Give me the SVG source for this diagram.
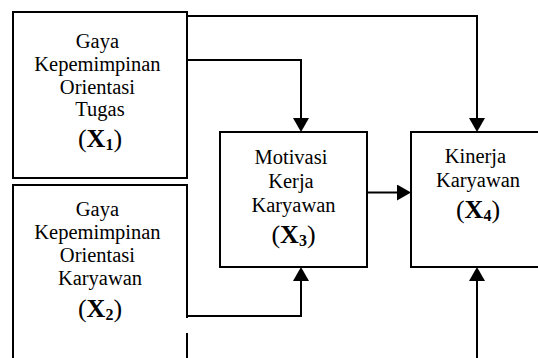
<svg xmlns="http://www.w3.org/2000/svg" width="538" height="358" viewBox="0 0 538 358">
  <style>
    .box { fill: #fff; stroke: #000; stroke-width: 2; }
    .edge { fill: none; stroke: #000; stroke-width: 2; }
    .lbl { font-family: "Liberation Serif", "Times New Roman", serif; font-size: 20.5px; fill: #000; text-anchor: middle; }
    .var { font-size: 26px; }
    .b { font-weight: bold; }
    .sub { font-weight: bold; font-size: 16px; }
  </style>
  <defs>
    <marker id="arrow" viewBox="0 0 14 16" markerUnits="userSpaceOnUse" markerWidth="14" markerHeight="16" refX="0" refY="8" orient="auto">
      <path d="M0,0 L14,8 L0,16 Z" fill="#000"/>
    </marker>
  </defs>

  <rect width="538" height="358" fill="#fff"/>

  <g id="x1">
    <rect class="box" x="13" y="12" width="174" height="166"/>
    <text class="lbl">
      <tspan x="100" y="48">Gaya</tspan>
      <tspan x="100" y="71">Kepemimpinan</tspan>
      <tspan x="100" y="94">Orientasi</tspan>
      <tspan x="100" y="116">Tugas</tspan>
    </text>
    <text class="lbl var" x="100" y="147">(<tspan class="b">X</tspan><tspan class="sub" dy="3">1</tspan><tspan dy="-3">)</tspan></text>
  </g>

  <g id="x2">
    <path class="box" d="M187,318 V185 H13 V372"/>
    <path class="box" d="M187,333 V372"/>
    <text class="lbl">
      <tspan x="100" y="216">Gaya</tspan>
      <tspan x="100" y="239">Kepemimpinan</tspan>
      <tspan x="100" y="262">Orientasi</tspan>
      <tspan x="100" y="285">Karyawan</tspan>
    </text>
    <text class="lbl var" x="100" y="317">(<tspan class="b">X</tspan><tspan class="sub" dy="3">2</tspan><tspan dy="-3">)</tspan></text>
  </g>

  <g id="x3">
    <rect class="box" x="220" y="132" width="147" height="135"/>
    <text class="lbl">
      <tspan x="293.5" y="164">Motivasi</tspan>
      <tspan x="293.5" y="188">Kerja</tspan>
      <tspan x="293.5" y="212">Karyawan</tspan>
    </text>
    <text class="lbl var" x="293.5" y="243">(<tspan class="b">X</tspan><tspan class="sub" dy="3">3</tspan><tspan dy="-3">)</tspan></text>
  </g>

  <g id="x4">
    <rect class="box" x="411" y="132" width="140" height="135"/>
    <text class="lbl">
      <tspan x="478" y="163">Kinerja</tspan>
      <tspan x="478" y="187">Karyawan</tspan>
    </text>
    <text class="lbl var" x="478" y="218">(<tspan class="b">X</tspan><tspan class="sub" dy="3">4</tspan><tspan dy="-3">)</tspan></text>
  </g>

  <g id="connectors">
    <path class="edge" d="M187,16 H477 V118" marker-end="url(#arrow)"/>
    <path class="edge" d="M187,60 H301 V118" marker-end="url(#arrow)"/>
    <path class="edge" d="M367,192.5 H397" marker-end="url(#arrow)"/>
    <path class="edge" d="M187,316 H301 V281" marker-end="url(#arrow)"/>
    <path class="edge" d="M477,360 V281" marker-end="url(#arrow)"/>
  </g>
</svg>
